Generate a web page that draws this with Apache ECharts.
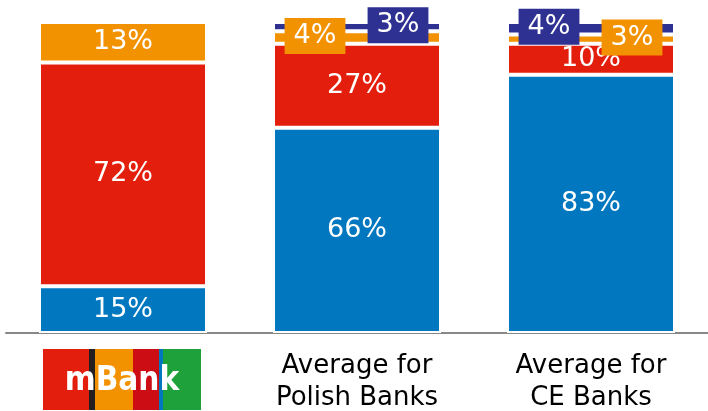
<!DOCTYPE html>
<html><head><meta charset="utf-8">
<script src="https://cdn.jsdelivr.net/npm/echarts@6/dist/echarts.min.js"></script>
<style>html,body{margin:0;padding:0;background:#fff}#c{width:708px;height:411px}</style>
</head><body><div id="c"></div>
<script>
const categories = ['mBank', 'Average for\nPolish Banks', 'Average for\nCE Banks'];
const blueVals = [15, 66, 83];
const redVals = [72, 27, 10];
const orangeVals = [13, 4, 3];
const navyVals = [0, 3, 4];

const COL = {blue:'#0077BE', red:'#E41E0C', orange:'#F39200', navy:'#2E3192'};
const FONT = 'DejaVu Sans';

// per-point label overrides for the thin segments (boxed labels)
const boxedLabels = {
  orange: {1: {offset:[-42,-1.5]}, 2: {offset:[41,-1.5]}},
  navy:   {1: {offset:[41,-1.5]},  2: {offset:[-42,-1.5]}}
};

function mkSeries(name, vals, color, boxes) {
  return {
    name, type:'bar', stack:'s', barWidth:168,
    itemStyle:{color, borderColor:'#fff', borderWidth:2},
    label:{show:true, position:'inside', color:'#fff', fontFamily:FONT, fontSize:27,
      formatter: p => p.value > 0 ? p.value + '%' : ''},
    data: vals.map((v, i) => {
      const b = boxes && boxes[i];
      if (!b) return v;
      return {value:v, label:{offset:b.offset, backgroundColor:color, padding:[5,9,3,9], lineHeight:28}};
    })
  };
}

const chart = echarts.init(document.getElementById('c'), null, {renderer:'canvas'});
chart.setOption({
  animation:false,
  grid:{left:6, right:0, top:22, bottom:78, containLabel:false, outerBoundsMode:'none'},
  xAxis:{type:'category', data:categories,
    axisLine:{lineStyle:{color:'#888', width:2}}, axisTick:{show:false},
    axisLabel:{margin:17, color:'#000', fontFamily:FONT, fontSize:26, lineHeight:32,
      formatter:(v, i) => i === 0 ? '' : v}},
  yAxis:{type:'value', min:0, max:100, show:false, splitLine:{show:false}},
  series:[
    mkSeries('blue', blueVals, COL.blue),
    mkSeries('red', redVals, COL.red),
    mkSeries('orange', orangeVals, COL.orange, boxedLabels.orange),
    mkSeries('navy', navyVals, COL.navy, boxedLabels.navy)
  ]
});

// mBank logo under the first category
const logoCx = chart.convertToPixel({xAxisIndex:0}, categories[0]);
const logoLeft = logoCx - 80, logoTop = 349, logoH = 61;
const stripes = [[0,46,'#E41E0C'],[46,52,'#231F20'],[52,90,'#F39200'],[90,116,'#CC0E14'],[116,120,'#0077BE'],[120,158,'#1EA03A']];
chart.setOption({graphic:[{type:'group', left:logoLeft, top:logoTop, children:
  stripes.map(s => ({type:'rect', shape:{x:s[0], y:0, width:s[1]-s[0], height:logoH}, style:{fill:s[2]}}))
  .concat([{type:'text', x:79, y:32, style:{text:'mBank', fill:'#fff', font:'bold 33px "DejaVu Sans Condensed", "DejaVu Sans"', align:'center', verticalAlign:'middle'}}])
}]});
</script></body></html>
